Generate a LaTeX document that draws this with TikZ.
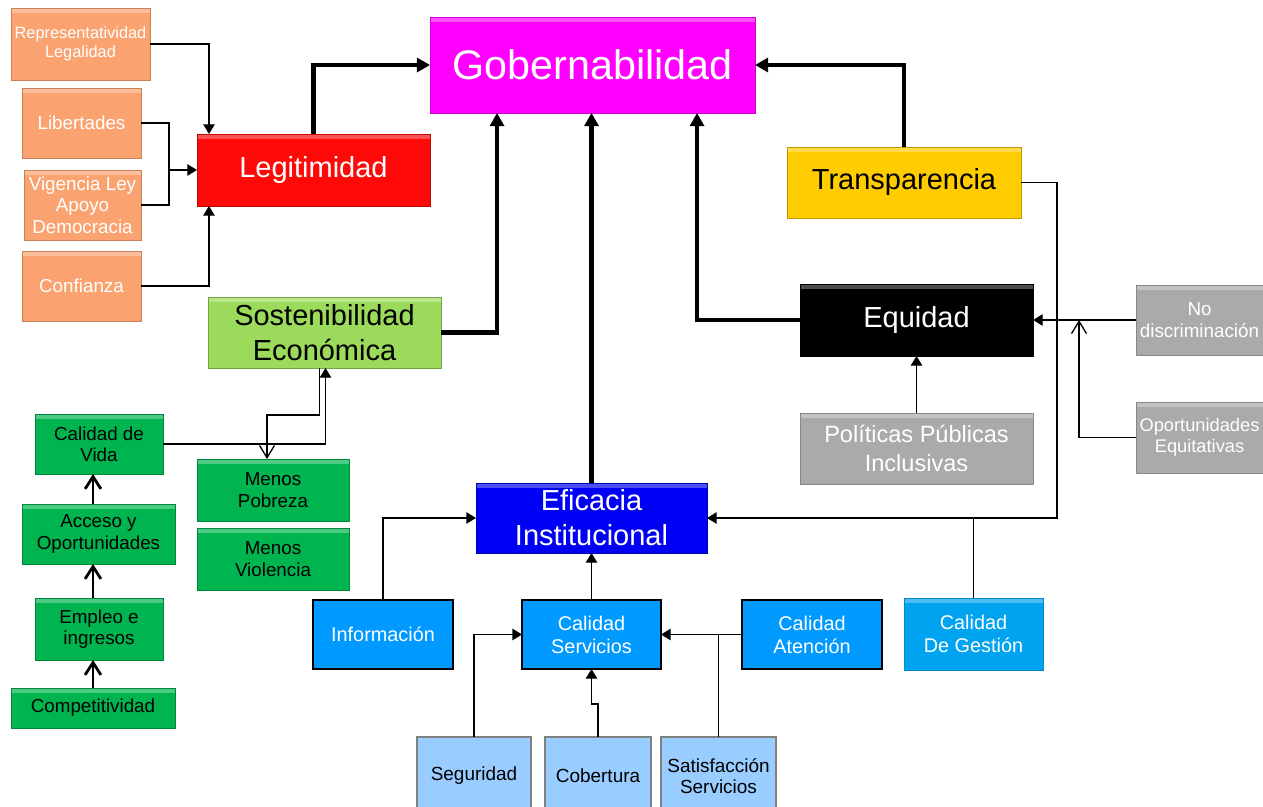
\documentclass[tikz,border=0pt]{standalone}
\usepackage{fontspec}
\setmainfont{Liberation Sans}
\usetikzlibrary{arrows.meta}
\usetikzlibrary{calc}
\definecolor{naranja}{RGB}{250,163,112}
\definecolor{rojo}{RGB}{255,8,8}
\definecolor{fucsia}{RGB}{255,0,255}
\definecolor{oro}{RGB}{255,204,0}
\definecolor{verdecl}{RGB}{155,218,90}
\definecolor{verde}{RGB}{0,180,80}
\definecolor{azul}{RGB}{0,0,245}
\definecolor{celeste}{RGB}{0,153,255}
\definecolor{celeste2}{RGB}{0,163,240}
\definecolor{azulcl}{RGB}{153,204,255}
\definecolor{gris}{RGB}{170,170,170}
\tikzset{
	caja/.style = {rectangle, align=center, inner sep=0pt, outer sep=0pt,
		path picture={\fill[white, opacity=0.3] (path picture bounding box.north west)
			rectangle ([yshift=-3pt]path picture bounding box.north east);}},
	plana/.style = {rectangle, align=center, inner sep=0pt, outer sep=0pt},
	wh/.style 2 args = {minimum width=#1*0.02cm, minimum height=#2*0.02cm},
	f_gde/.style = {font=\fontsize{23.5}{28}\selectfont},
	f_med/.style = {font=\fontsize{16.5}{20}\selectfont},
	f_chi/.style = {font=\fontsize{10.7}{12.2}\selectfont},
	c_nar/.style = {caja, f_chi, fill=naranja, draw=naranja!80!black, text=white},% factores legitimidad
	c_ver/.style = {caja, f_chi, fill=verde, draw=verde!75!black},% factores economicos
	c_cel/.style = {plana, font=\fontsize{11.3}{13}\selectfont, fill=celeste,
		draw=black, line width=1pt, text=white},% componentes eficacia
	c_acl/.style = {plana, font=\fontsize{10.8}{12}\selectfont, fill=azulcl,
		draw=gray, line width=0.8pt},% calidad servicios
	c_gri/.style = {caja, f_chi, fill=gris, draw=gris!80!black, text=white},% factores equidad
	linea/.style = {line width=0.75pt},
	flecha/.style = {-{Triangle[length=5.5pt,width=6.5pt]}, line width=0.75pt},
	flecha_g/.style = {-{Triangle[length=7.5pt,width=8pt]}, line width=2.3pt},
	flecha_v/.style = {-{Straight Barb[length=7pt,width=8.5pt]}, line width=0.75pt},
	flecha_m/.style = {-{Straight Barb[length=7pt,width=9pt]}, line width=1.6pt}
}
\begin{document}
\begin{tikzpicture}[x=0.02cm, y=-0.02cm]
	\useasboundingbox (0,0) rectangle (1263,807);
	% centro
	\node[caja, f_gde, fill=fucsia, draw=fucsia!80!black, text=white, wh={325}{96}] (gob) at (592.5,65) {Gobernabilidad};
	\node[caja, f_med, fill=rojo, draw=rojo!75!black, text=white, wh={233}{72}] (legit) at (313.5,170) {Legitimidad};
	\node[caja, f_med, fill=oro, draw=oro!75!black, wh={234}{71}] (transp) at (904,182.5) {Transparencia};
	\node[caja, f_med, fill=verdecl, draw=verdecl!75!black, wh={233}{71}] (sost) at (324.5,332.5) {Sostenibilidad\\Económica};
	\node[caja, f_med, fill=azul, draw=azul!70!black, text=white, wh={231}{70}] (eficacia) at (591.5,518) {Eficacia\\Institucional};
	\node[caja, f_med, fill=black, draw=black, text=white, wh={233}{72}] (equidad) at (916.5,320) {Equidad};
	% legitimidad
	\node[c_nar, wh={139}{72}, font=\fontsize{9.3}{11}\selectfont] (rep) at (80.5,44) {Representatividad\\Legalidad};
	\node[c_nar, wh={119}{70}] (lib) at (81.5,123) {Libertades};
	\node[c_nar, wh={117}{70}] (vig) at (82.5,205) {Vigencia Ley\\Apoyo\\Democracia};
	\node[c_nar, wh={119}{70}] (conf) at (81.5,286) {Confianza};
	% economia
	\node[c_ver, wh={128}{60}] (vida) at (99,444) {Calidad de\\Vida};
	\node[c_ver, wh={153}{60}] (acceso) at (98.5,534) {Acceso y\\Oportunidades};
	\node[c_ver, wh={128}{62}] (empleo) at (99,629) {Empleo e\\ingresos};
	\node[c_ver, wh={164}{40}] (compet) at (93,708) {Competitividad};
	\node[c_ver, wh={152}{62}] (pobreza) at (273,490) {Menos\\Pobreza};
	\node[c_ver, wh={152}{62}] (violencia) at (273,559) {Menos\\Violencia};
	% eficacia
	\node[c_cel, wh={140}{69}] (info) at (383,634.5) {Información};
	\node[c_cel, wh={139}{69}] (servicios) at (591.5,634.5) {Calidad\\Servicios};
	\node[c_cel, wh={140}{69}] (atencion) at (812,634.5) {Calidad\\Atención};
	\node[caja, font=\fontsize{11.3}{13}\selectfont, fill=celeste2, draw=celeste2!85!black, text=white, wh={139}{72}] (gestion) at (973.5,634) {Calidad\\De Gestión};
	\node[c_acl, wh={114}{78}] (segur) at (474,776) {Seguridad};
	\node[c_acl, wh={106}{78}] (cobert) at (598,776) {Cobertura};
	\node[c_acl, wh={115}{78}] (satisf) at (718.5,776) {Satisfacción\\Servicios};
	% equidad
	\node[caja, font=\fontsize{13.4}{16.4}\selectfont, fill=gris, draw=gris!80!black, text=white, wh={233}{71}] (politicas) at (916.5,448.5) {Políticas Públicas\\Inclusivas};
	\node[c_gri, wh={127}{70}] (nodisc) at (1199.5,320) {No\\discriminación};
	\node[c_gri, wh={127}{71}, font=\fontsize{10.4}{12}\selectfont] (oporteq) at (1199.5,437.5) {Oportunidades\\Equitativas};

	% conectores gruesos
	\draw[flecha_g] (legit.north) |- (gob.west);
	\draw[flecha_g] (sost.east) -| ($(gob.south west)+(67,0)$);
	\draw[flecha_g] (eficacia.north) -- (eficacia.north |- gob.south);
	\draw[flecha_g] (transp.north) |- (gob.east);
	\draw[flecha_g] (equidad.west) -| ($(gob.south east)+(-58,0)$);
	% legitimidad
	\coordinate (jl) at ($(legit.west)+(-28,0)$);
	\draw[flecha] (rep.east) -| ($(legit.north west)+(12,0)$);
	\draw[linea] (lib.east) -| (jl);
	\draw[linea] (vig.east) -| (jl);
	\draw[flecha] (jl) -- (legit.west);
	\draw[flecha] (conf.east) -| ($(legit.south west)+(12,0)$);
	% economia
	\draw[flecha] (vida.east) -| ($(sost.south)+(1,0)$);
	\draw[flecha_v] ($(sost.south)+(-5,0)$) |- ($(pobreza.north)+(-6,-44)$) -- ($(pobreza.north)+(-6,0)$);
	\draw[flecha_m] (compet.north) -- (compet.north |- empleo.south);
	\draw[flecha_m] (compet.north |- empleo.north) -- (compet.north |- acceso.south);
	\draw[flecha_m] (compet.north |- acceso.north) -- (compet.north |- vida.south);
	% eficacia
	\draw[flecha] (info.north) |- (eficacia.west);
	\draw[flecha] (servicios.north) -- (servicios.north |- eficacia.south);
	\draw[flecha] (transp.east) -- ++(36,0) |- (eficacia.east);
	\draw[linea] (gestion.north) -- (gestion.north |- eficacia.east);
	\draw[flecha] (atencion.west) -- (servicios.east);
	\draw[linea] (satisf.north) -- (satisf.north |- atencion.west);
	\draw[flecha] (segur.north) |- (servicios.west);
	\draw[flecha] (cobert.north) |- ($(servicios.south)+(0,35)$) -- (servicios.south);
	% equidad
	\draw[flecha] (politicas.north) -- (equidad.south);
	\draw[flecha] (nodisc.west) -- (equidad.east);
	\draw[flecha_v] (oporteq.west) -| ($(equidad.east)+(46,0)$);
\end{tikzpicture}
\end{document}
